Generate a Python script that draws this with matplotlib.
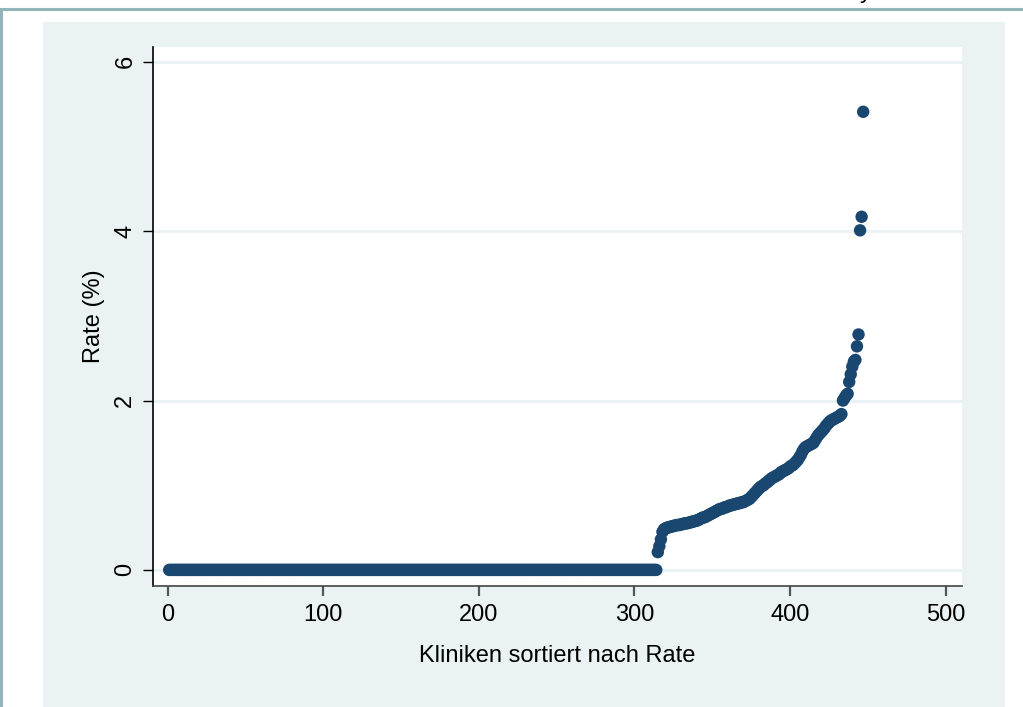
import matplotlib
matplotlib.use("Agg")
import matplotlib.pyplot as plt
from matplotlib.patches import Rectangle
from matplotlib.lines import Line2D

plt.rcParams['font.family'] = ['Liberation Sans', 'DejaVu Sans']

# ---- data ----
n_zero_clinics = 314
zero_rates = [0.0] * n_zero_clinics
nonzero_rates = [
    0.21, 0.28, 0.36, 0.45, 0.48,
    0.49, 0.50, 0.50, 0.51, 0.51, 0.52, 0.52, 0.53, 0.53, 0.53, 0.54, 0.54, 0.55, 0.55, 0.55,
    0.56, 0.56, 0.57, 0.57, 0.58, 0.58,
    0.59, 0.60, 0.61, 0.62, 0.62, 0.63, 0.64, 0.65, 0.66, 0.67, 0.68, 0.69, 0.70, 0.71, 0.72,
    0.72, 0.73, 0.74, 0.74, 0.75,
    0.76, 0.76, 0.77, 0.77, 0.78, 0.78, 0.79, 0.79, 0.80, 0.80, 0.81, 0.82, 0.83, 0.84, 0.86,
    0.88, 0.90, 0.92, 0.94, 0.96, 0.98, 0.99, 1.00, 1.02, 1.03, 1.05, 1.06, 1.08, 1.09, 1.10,
    1.11, 1.12, 1.13, 1.15, 1.16,
    1.17, 1.18, 1.19, 1.20, 1.22, 1.23, 1.24, 1.26, 1.28, 1.30, 1.33, 1.36, 1.40, 1.43, 1.45,
    1.46, 1.47, 1.48, 1.49, 1.50,
    1.53, 1.56, 1.59, 1.61, 1.63, 1.65, 1.67, 1.70, 1.72, 1.74, 1.76, 1.77, 1.78, 1.79, 1.80,
    1.81, 1.82, 1.84,
    2.00, 2.03, 2.06, 2.08, 2.22, 2.31, 2.40, 2.46, 2.48, 2.64, 2.78,
    4.01, 4.17, 5.41,
]
rates = zero_rates + nonzero_rates
ranks = list(range(1, len(rates) + 1))

x_ticks = [0, 100, 200, 300, 400, 500]
y_ticks = [0, 2, 4, 6]
x_label = "Kliniken sortiert nach Rate"
y_label = "Rate (%)"

# ---- figure ----
W, H = 1023, 707
fig = plt.figure(figsize=(W / 100, H / 100), dpi=100)
fig.patch.set_facecolor('white')

def fx(px):
    return px / W

def fy(py):
    return 1 - py / H

panel_col = '#EAF2F3'
frame_col = '#94B4BC'
FS = 17

# light panel
fig.patches.append(Rectangle((fx(43), fy(707)), fx(1005) - fx(43), fy(22) - fy(707),
                             transform=fig.transFigure, facecolor=panel_col,
                             edgecolor='none', zorder=-5))
# document frame lines
fig.lines.append(Line2D([0, 1], [fy(9), fy(9)], transform=fig.transFigure,
                        color=frame_col, lw=2.2, zorder=-4))
fig.lines.append(Line2D([fx(1), fx(1)], [fy(9), 0], transform=fig.transFigure,
                        color=frame_col, lw=2.2, zorder=-4))
# cropped text at top (cut off in the reference too)
fig.text(fx(866), fy(-2), 'y', fontsize=FS, ha='center', va='baseline', color='black')

left, right, top, bottom = 153, 962, 47, 586
ax = fig.add_axes([fx(left), fy(bottom), fx(right) - fx(left), fy(top) - fy(bottom)])
ax.set_zorder(5)
ax.set_facecolor('white')

ax.scatter(ranks, rates, s=80, color='#1A476F', edgecolors='none', zorder=3)

ax.set_xlim(-9.4, 510.5)
ax.set_ylim(-0.19, 6.175)
ax.set_xticks(x_ticks)
ax.set_yticks(y_ticks)
ax.set_xticklabels([str(t) for t in x_ticks], fontsize=FS)
ax.set_yticklabels([str(t) for t in y_ticks], fontsize=FS, rotation=90, va='center')

for y in y_ticks:
    ax.axhline(y, color=panel_col, lw=2.2, zorder=1)

for s in ['top', 'right']:
    ax.spines[s].set_visible(False)
ax.spines['left'].set_color('black')
ax.spines['left'].set_linewidth(1.2)
ax.spines['bottom'].set_color('#444444')
ax.spines['bottom'].set_linewidth(1.2)

ax.tick_params(axis='y', length=7, width=1.0, color='black', pad=5)
ax.tick_params(axis='x', length=7, width=1.6, color='#555555', pad=6)

ax.set_xlabel(x_label, fontsize=FS, labelpad=14)
ax.set_ylabel(y_label, fontsize=FS, labelpad=7)

fig.savefig('out.png', dpi=100, facecolor='white')
